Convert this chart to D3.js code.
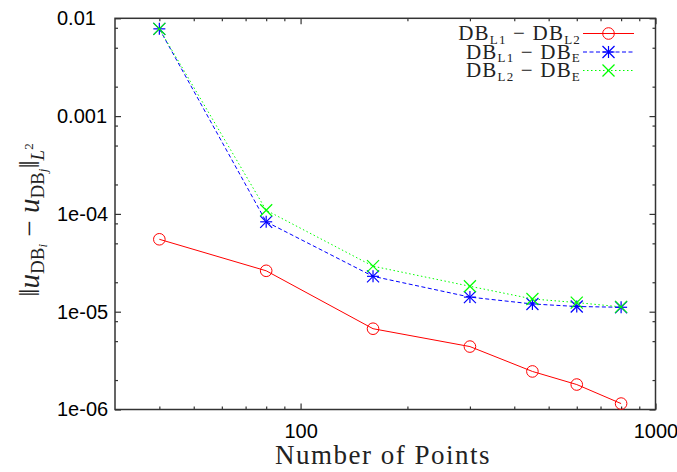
<!DOCTYPE html>
<html>
<head>
<meta charset="utf-8">
<script src="https://cdn.jsdelivr.net/npm/d3@7"></script>
<style>
  html, body { margin: 0; padding: 0; background: #fff; }
  svg { display: block; }
</style>
</head>
<body>
<svg id="chart" width="677" height="472"></svg>
<script>
// ---- data ----
const points = [40, 80, 160, 300, 450, 600, 800];
const errL1L2 = [5.5e-5, 2.62e-5, 6.7e-6, 4.4e-6, 2.45e-6, 1.8e-6, 1.15e-6];
const errL1E  = [7.8e-3, 8.3e-5, 2.3e-5, 1.41e-5, 1.2e-5, 1.13e-5, 1.11e-5];
const errL2E  = [7.8e-3, 1.09e-4, 2.92e-5, 1.82e-5, 1.35e-5, 1.24e-5, 1.12e-5];
const xMajorTicks = [100, 1000];
const xMinorTicks = [40, 50, 60, 70, 80, 90, 200, 300, 400, 500, 600, 700, 800, 900];
const yMajorTicks = [1e-6, 1e-5, 1e-4, 1e-3, 1e-2];
const yTickLabels = ["1e-06", "1e-05", "1e-04", "0.001", "0.01"];
const yMinorTicks = [2e-6, 5e-6, 8e-6, 2e-5, 5e-5, 8e-5, 2e-4, 5e-4, 8e-4, 2e-3, 5e-3, 8e-3];

const svg = d3.select("#chart");
const L = 115, R = 655.5, T = 18.3, B = 409.5;
const x = d3.scaleLog().domain([30, 1000]).range([L, R]);
const y = d3.scaleLog().domain([1e-6, 1e-2]).range([B, T]);

svg.append("rect").attr("width", 677).attr("height", 472).attr("fill", "#fff");

const axisColor = "#333";
const sansFont = "'Liberation Sans', Arial, sans-serif";
const serifFont = "'Liberation Serif', 'DejaVu Serif', serif";

function styleAxis(g, showLabels) {
  g.select(".domain").remove();
  g.selectAll(".tick line").attr("stroke", axisColor).attr("stroke-width", 1.2);
  if (!showLabels) g.selectAll(".tick text").remove();
  else g.selectAll(".tick text").attr("fill", "#000").style("font-family", sansFont).style("font-size", "20px");
}

// bottom
svg.append("g").attr("transform", `translate(0,${B})`)
  .call(d3.axisBottom(x).tickValues(xMajorTicks).tickFormat(d3.format("d")).tickSizeInner(-6).tickPadding(14))
  .call(g => styleAxis(g, true));
svg.append("g").attr("transform", `translate(0,${B})`)
  .call(d3.axisBottom(x).tickValues(xMinorTicks).tickSizeInner(-3))
  .call(g => styleAxis(g, false));
// top
svg.append("g").attr("transform", `translate(0,${T})`)
  .call(d3.axisTop(x).tickValues(xMajorTicks).tickSizeInner(-6))
  .call(g => styleAxis(g, false));
svg.append("g").attr("transform", `translate(0,${T})`)
  .call(d3.axisTop(x).tickValues(xMinorTicks).tickSizeInner(-3))
  .call(g => styleAxis(g, false));
// left (labels left-aligned as in the reference)
svg.append("g").attr("transform", `translate(${L},0)`)
  .call(d3.axisLeft(y).tickValues(yMajorTicks).tickFormat((d, i) => yTickLabels[i]).tickSizeInner(-6).tickPadding(58))
  .call(g => styleAxis(g, true))
  .call(g => g.selectAll(".tick text").attr("text-anchor", "start"));
svg.append("g").attr("transform", `translate(${L},0)`)
  .call(d3.axisLeft(y).tickValues(yMinorTicks).tickSizeInner(-3))
  .call(g => styleAxis(g, false));
// right
svg.append("g").attr("transform", `translate(${R},0)`)
  .call(d3.axisRight(y).tickValues(yMajorTicks).tickSizeInner(-6))
  .call(g => styleAxis(g, false));
svg.append("g").attr("transform", `translate(${R},0)`)
  .call(d3.axisRight(y).tickValues(yMinorTicks).tickSizeInner(-3))
  .call(g => styleAxis(g, false));

// border
svg.append("rect").attr("x", L).attr("y", T).attr("width", R - L).attr("height", B - T)
  .attr("fill", "none").attr("stroke", axisColor).attr("stroke-width", 1.5);

// ---- series ----
const series = [
  { vals: errL1L2, color: "#ff0000", dash: null, marker: "circle" },
  { vals: errL1E,  color: "#0000ff", dash: "4,2.5", marker: "star" },
  { vals: errL2E,  color: "#00ff00", dash: "1.5,2.5", marker: "cross" }
];

const line = d3.line().x(d => x(d[0])).y(d => y(d[1]));

function drawMarker(g, type, cx, cy, color) {
  const s = 6;
  if (type === "circle") {
    g.append("circle").attr("cx", cx).attr("cy", cy).attr("r", 5.8)
      .attr("fill", "none").attr("stroke", color).attr("stroke-width", 1);
  } else {
    const segs = [[-s, -s, s, s], [-s, s, s, -s]];
    if (type === "star") { segs.push([-s, 0, s, 0]); segs.push([0, -s, 0, s]); }
    segs.forEach(p => g.append("line")
      .attr("x1", cx + p[0]).attr("y1", cy + p[1]).attr("x2", cx + p[2]).attr("y2", cy + p[3])
      .attr("stroke", color).attr("stroke-width", 1.2));
  }
}

series.forEach(s => {
  const data = points.map((p, i) => [p, s.vals[i]]);
  svg.append("path").datum(data).attr("d", line).attr("fill", "none")
    .attr("stroke", s.color).attr("stroke-width", 1)
    .attr("stroke-dasharray", s.dash);
  const mg = svg.append("g");
  data.forEach(d => drawMarker(mg, s.marker, x(d[0]), y(d[1]), s.color));
});

// ---- legend ----
const legendRows = [
  { a: "L1", b: "L2" },
  { a: "L1", b: "E" },
  { a: "L2", b: "E" }
];
legendRows.forEach((r, i) => {
  const ly = 33.5 + i * 18.5;
  const t = svg.append("text").attr("x", 581).attr("y", ly + 6.5)
    .attr("text-anchor", "end").style("font-family", serifFont).style("font-size", "21px")
    .style("letter-spacing", "1.2px").attr("fill", "#222");
  t.append("tspan").text("DB");
  t.append("tspan").attr("dy", 3.5).style("font-size", "13px").text(r.a);
  t.append("tspan").attr("dy", -3.5).text(" \u2212 DB");
  t.append("tspan").attr("dy", 3.5).style("font-size", "13px").text(r.b);
  const s = series[i];
  svg.append("line").attr("x1", 583).attr("x2", 634).attr("y1", ly).attr("y2", ly)
    .attr("stroke", s.color).attr("stroke-width", 1).attr("stroke-dasharray", s.dash);
  drawMarker(svg.append("g"), s.marker, 608.5, ly, s.color);
});

// ---- axis titles ----
svg.append("text").attr("x", 383).attr("y", 464).attr("text-anchor", "middle")
  .style("font-family", serifFont).style("font-size", "27px").style("letter-spacing", "1.5px")
  .attr("fill", "#222")
  .text("Number of Points");

const yl = svg.append("text").attr("transform", "translate(39,220) rotate(-90)")
  .attr("text-anchor", "middle").style("font-family", serifFont).style("font-size", "29px").attr("fill", "#222");
yl.append("tspan").text("\u2016");
yl.append("tspan").style("font-style", "italic").text("u");
yl.append("tspan").attr("dy", 5).style("font-size", "19px").text("DB");
yl.append("tspan").attr("dy", 3).style("font-size", "13px").style("font-style", "italic").text("i");
yl.append("tspan").attr("dy", -8).text(" \u2212 ");
yl.append("tspan").style("font-style", "italic").text("u");
yl.append("tspan").attr("dy", 5).style("font-size", "19px").text("DB");
yl.append("tspan").attr("dy", 3).style("font-size", "13px").style("font-style", "italic").text("j");
yl.append("tspan").attr("dy", -8).text("\u2016");
yl.append("tspan").attr("dy", 5).style("font-size", "19px").style("font-style", "italic").text("L");
yl.append("tspan").attr("dy", -11).style("font-size", "13px").text("2");
</script>
</body>
</html>
